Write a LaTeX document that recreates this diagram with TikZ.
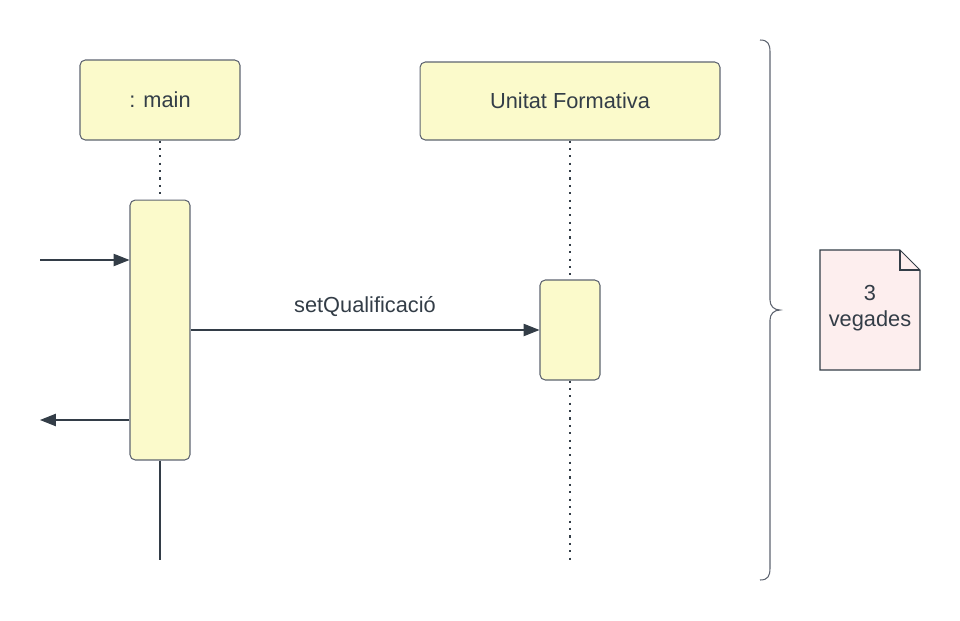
\documentclass[tikz,border=0pt]{standalone}
\usepackage{fontspec}
\setmainfont{Liberation Sans}
\usetikzlibrary{positioning,arrows.meta}

\definecolor{caixa}{HTML}{FBFACB}
\definecolor{vora}{HTML}{5E6470}
\definecolor{tinta}{HTML}{333D47}
\definecolor{nota}{HTML}{FDEEEE}

\tikzset{
  objecte/.style={draw=vora,fill=caixa,rounded corners=3pt,line width=0.6pt,
    text=tinta,font=\fontsize{12.4}{15}\selectfont},
  activa/.style={draw=vora,fill=caixa,rounded corners=3pt,line width=0.6pt,
    minimum width=1.2cm},
  vida/.style={tinta,line width=0.9pt,dash pattern=on 1.2pt off 3pt},
  missatge/.style={tinta,line width=0.6pt,-{Triangle[length=9pt,width=7pt]}}
}

\begin{document}
\begin{tikzpicture}[x=0.02cm,y=-0.02cm]
                    \useasboundingbox (0,0) rectangle (960,620);
                    \node[objecte,minimum width=3.2cm,minimum height=1.6cm] (main) at (160,100) {: main};
                    \node[objecte,minimum width=6cm,minimum height=1.56cm] (uf) at (570,101) {Unitat Formativa};
                    \node[activa,minimum height=5.2cm] (actmain) at (160,330) {};
                    \node[activa,minimum height=2cm] (actuf) at (570,330) {};
                    \coordinate (entra) at (40,260);
                    \coordinate (surt) at (40,420);
                    \coordinate (fimain) at (160,560);
                    \coordinate (fiuf) at (570,560);
                    \draw[vida] (main) -- (actmain);
                    \draw[vida] (uf) -- (actuf);
                    \draw[vida] (actuf) -- (fiuf);
                    \draw[tinta,line width=0.6pt] (actmain) -- (fimain);
                    \draw[missatge] (entra) -- (actmain.west |- entra);
                    \draw[missatge] (actmain.west |- surt) -- (surt);
                    \draw[missatge] (actmain.east) -- node[above=4pt,text=tinta,font=\fontsize{12.4}{15}\selectfont] {setQualificació} (actuf.west);
                    % clau de la repeticio
                    \draw[vora,line width=0.6pt] (760,40) .. controls (768,40) and (770,44) .. (770,52)
                        -- (770,300) .. controls (770,306) and (774,310) .. (780,310)
                        .. controls (774,310) and (770,314) .. (770,320)
                        -- (770,568) .. controls (770,576) and (768,580) .. (760,580);
                    \draw[tinta,fill=nota,line width=0.6pt] (820,250) -- (900,250) -- (920,270) -- (920,370) -- (820,370) -- cycle;
                    \draw[tinta,line width=0.6pt] (900,250) -- (900,270) -- (920,270);
                    \node[text=tinta,align=center,font=\fontsize{12.4}{15}\selectfont] (vegades) at (870,308) {3\\vegades};
                \end{tikzpicture}
\end{document}
